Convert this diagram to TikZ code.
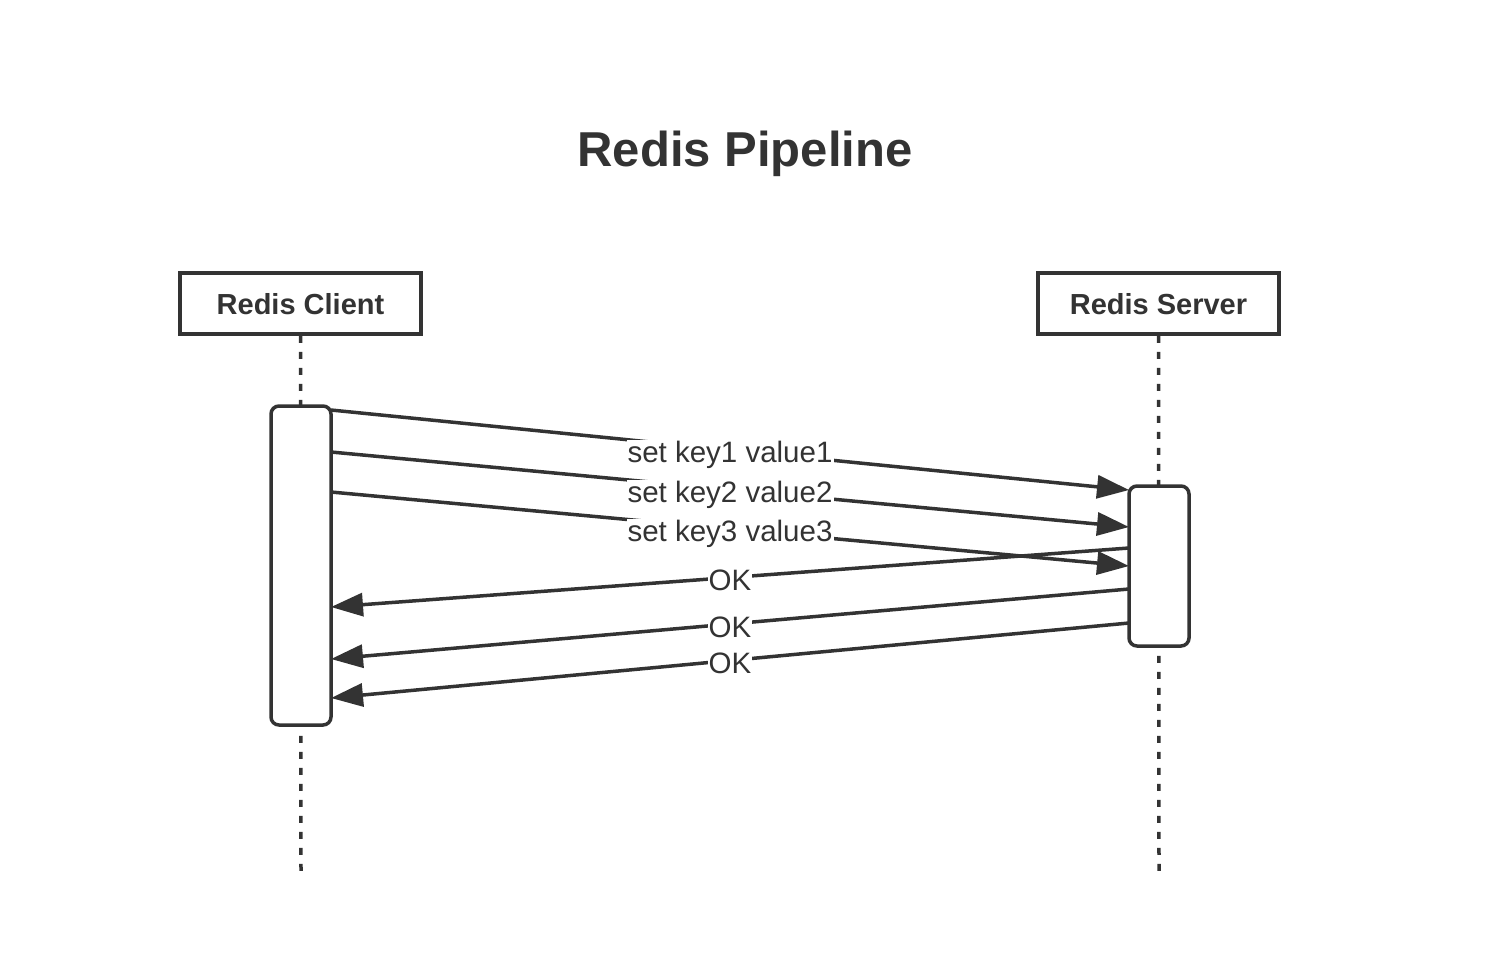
\documentclass[tikz,border=0pt]{standalone}
\usepackage{fontspec}
\setmainfont{Liberation Sans}
\usetikzlibrary{arrows.meta}
\definecolor{ink}{HTML}{333333}
\tikzset{
  actor/.style={draw=ink, line width=3.5pt, fill=white, minimum width=241pt, minimum height=61pt, inner sep=0pt, font=\fontsize{29}{32}\selectfont\bfseries, text=ink},
  act/.style={draw=ink, line width=3.5pt, fill=white, rounded corners=8pt, minimum width=60pt, inner sep=0pt},
  life/.style={draw=ink, line width=3.5pt, dash pattern=on 7pt off 9pt},
  msg/.style={draw=ink, line width=3.5pt, -{Triangle[length=32pt,width=23pt]}},
  lbl/.style={fill=white, inner sep=1pt, text=ink, font=\fontsize{29.5}{32}\selectfont},
}
\begin{document}
\begin{tikzpicture}[x=1pt,y=-1pt]
\path[fill=white] (0,0) rectangle (1490,962);
\useasboundingbox (0,0) rectangle (1490,962);
\node[text=ink, font=\fontsize{49}{54}\selectfont\bfseries] (title) at (745,154) {Redis Pipeline};
\node[actor, text depth=0pt, text height=22pt] (client) at (300.5,303.5) {Redis Client};
\node[actor, text depth=0pt, text height=22pt] (server) at (1158.5,303.5) {Redis Server};
\coordinate (cend) at (301,872);
\coordinate (send) at (1159,872);
\draw[life] (client.south) -- (cend);
\draw[life] (server.south) -- (send);
\node[act, minimum height=319pt] (ca) at (301,565.5) {};
\node[act, minimum height=160pt] (sa) at (1159,566) {};
% endpoints
\coordinate (m1s) at (331,410); \coordinate (m1e) at (1129,490);
\coordinate (m2s) at (331,452); \coordinate (m2e) at (1129,527);
\coordinate (m3s) at (331,492); \coordinate (m3e) at (1129,566);
\coordinate (r1s) at (1129,548); \coordinate (r1e) at (331,607);
\coordinate (r2s) at (1129,589); \coordinate (r2e) at (331,659);
\coordinate (r3s) at (1129,623); \coordinate (r3e) at (331,698);
\draw[msg] (m1s) -- node[lbl, pos=0.5, yshift=-5pt] (l1) {set key1 value1} (m1e);
\draw[msg] (m2s) -- node[lbl, pos=0.5, yshift=-5pt] (l2) {set key2 value2} (m2e);
\draw[msg] (m3s) -- node[lbl, pos=0.5, yshift=-5pt] (l3) {set key3 value3} (m3e);
\draw[msg] (r1s) -- node[lbl, pos=0.5, yshift=-3pt] (o1) {OK} (r1e);
\draw[msg] (r2s) -- node[lbl, pos=0.5, yshift=-3pt] (o2) {OK} (r2e);
\draw[msg] (r3s) -- node[lbl, pos=0.5, yshift=-3pt] (o3) {OK} (r3e);
\end{tikzpicture}
\end{document}
